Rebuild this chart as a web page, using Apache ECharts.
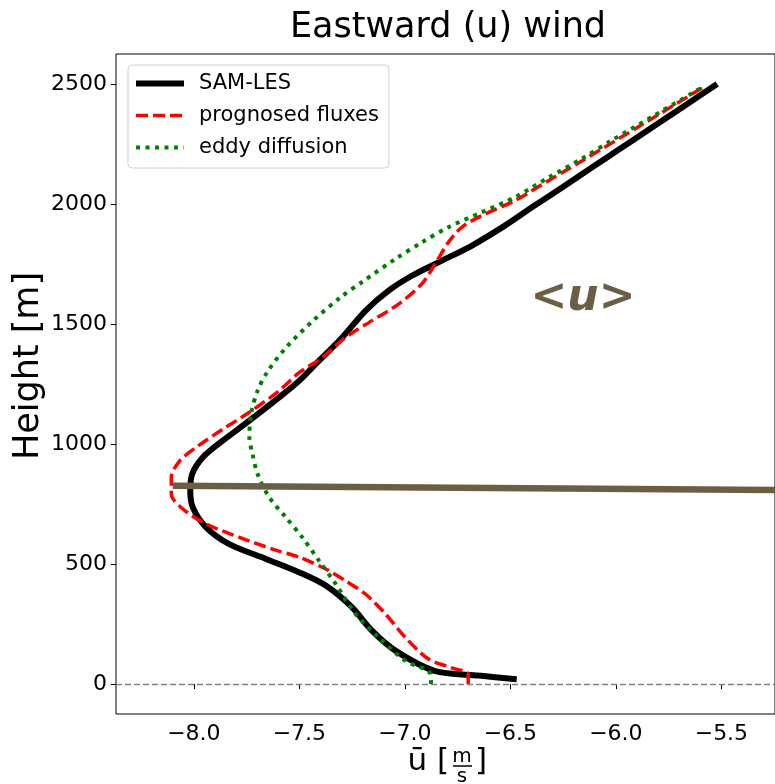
<!DOCTYPE html>
<html>
<head>
<meta charset="utf-8">
<script src="https://cdn.jsdelivr.net/npm/echarts@6/dist/echarts.min.js"></script>
<style>
    html, body { margin: 0; padding: 0; background: #fff; }
    #chart { width: 775px; height: 784px; }
</style>
</head>
<body>
<div id="chart"></div>
<script>
// 刻度
var xTicks = [-8.0, -7.5, -7.0, -6.5, -6.0, -5.5];
var yTicks = [0, 500, 1000, 1500, 2000, 2500];

// SAM-LES
var samZ = [20, 35, 55, 139, 222, 319, 410, 465, 521, 583, 653, 736, 805, 875, 944, 1014, 1097, 1194, 1264, 1347, 1444, 1555, 1639, 1701, 1757, 1826, 1910, 1986, 2069, 2160, 2222, 2312, 2400, 2500];
var samU = [-6.47, -6.65, -6.86, -7.045, -7.156, -7.25, -7.375, -7.50, -7.658, -7.832, -7.942, -8.005, -8.017, -8.008, -7.958, -7.863, -7.737, -7.596, -7.50, -7.407, -7.297, -7.187, -7.077, -6.967, -6.841, -6.684, -6.526, -6.398, -6.255, -6.10, -5.995, -5.84, -5.69, -5.52];

// prognosed fluxes
var progZ = [0, 42, 67, 104, 194, 292, 375, 430, 479, 528, 562, 611, 667, 729, 792, 861, 930, 986, 1062, 1132, 1222, 1298, 1361, 1444, 1514, 1583, 1667, 1750, 1840, 1903, 1951, 2014, 2097, 2180, 2333, 2490];
var progU = [-6.70, -6.70, -6.778, -6.888, -6.998, -7.092, -7.187, -7.281, -7.375, -7.50, -7.627, -7.784, -7.942, -8.052, -8.107, -8.107, -8.067, -7.989, -7.863, -7.737, -7.596, -7.50, -7.39, -7.281, -7.156, -7.03, -6.92, -6.857, -6.794, -6.731, -6.637, -6.479, -6.32, -6.16, -5.872, -5.58];

// eddy diffusion
var eddyZ = [0, 44, 97, 194, 292, 417, 514, 611, 694, 778, 875, 958, 1028, 1125, 1222, 1300, 1400, 1514, 1611, 1680, 1771, 1840, 1903, 1965, 2028, 2111, 2187, 2264, 2368, 2486];
var eddyU = [-6.876, -6.88, -6.998, -7.124, -7.234, -7.328, -7.407, -7.486, -7.564, -7.643, -7.698, -7.722, -7.737, -7.729, -7.698, -7.652, -7.565, -7.435, -7.305, -7.195, -7.045, -6.92, -6.794, -6.637, -6.479, -6.318, -6.165, -6.022, -5.82, -5.591];

// <u> 标注线
var annoU = [-8.10, -5.246];
var annoZ = [826, 808];

var FONT = "'DejaVu Sans', sans-serif";
var BROWN = "#6b5e46";

function pairs(u, z) {
    return u.map(function(v, i) { return [v, z[i]]; });
}

(function() {
    var myChart = echarts.init(document.getElementById("chart"));

    var option = {
        backgroundColor: "#fff",
        animation: false,
        grid: {
            left: 116,
            top: 54,
            right: -3,
            bottom: 70,
            show: true,
            borderColor: "#000",
            borderWidth: 1
        },
        legend: {
            data: [
                { name: "SAM-LES", lineStyle: { width: 6 } },
                { name: "prognosed fluxes", lineStyle: { width: 3.5, type: [12, 5] } },
                { name: "eddy diffusion", lineStyle: { width: 4, type: [4, 5.5] } }
            ],
            orient: "vertical",
            left: 128,
            top: 65,
            itemWidth: 48,
            itemHeight: 14,
            itemGap: 11,
            padding: [8, 10, 10, 5],
            borderColor: "#d0d0d0",
            borderWidth: 1,
            borderRadius: 4,
            backgroundColor: "rgba(255,255,255,0.8)",
            itemStyle: { opacity: 0 },
            textStyle: {
                fontFamily: FONT,
                fontSize: 21,
                color: "#000",
                lineHeight: 20,
                padding: [0, 0, 0, 10]
            }
        },
        xAxis: {
            type: "value",
            min: -8.369,
            max: -5.246,
            axisLine: { show: false },
            splitLine: { show: false },
            axisTick: {
                customValues: xTicks,
                length: 5,
                lineStyle: { color: "#000", width: 1 }
            },
            axisLabel: {
                customValues: xTicks,
                margin: 9,
                fontFamily: FONT,
                fontSize: 22,
                color: "#000",
                formatter: function(v) {
                    return (v < 0 ? "\u2212" : "") + Math.abs(v).toFixed(1);
                }
            }
        },
        yAxis: {
            type: "value",
            min: -125,
            max: 2625,
            axisLine: { show: false },
            splitLine: { show: false },
            axisTick: {
                customValues: yTicks,
                length: 5,
                lineStyle: { color: "#000", width: 1 }
            },
            axisLabel: {
                customValues: yTicks,
                margin: 9,
                fontFamily: FONT,
                fontSize: 22,
                color: "#000",
                formatter: function(v) { return String(v); }
            }
        },
        series: [{
            name: "SAM-LES",
            type: "line",
            data: pairs(samU, samZ),
            symbol: "none",
            smooth: 0.3,
            z: 2,
            lineStyle: { color: "#000", width: 6 },
            itemStyle: { color: "#000" },
            markLine: {
                silent: true,
                symbol: "none",
                label: { show: false },
                lineStyle: { color: "#808080", type: [6, 3], width: 1.3 },
                data: [{ yAxis: 0 }]
            }
        }, {
            name: "prognosed fluxes",
            type: "line",
            data: pairs(progU, progZ),
            symbol: "none",
            smooth: 0.3,
            z: 3,
            lineStyle: { color: "#ff0000", width: 3.5, type: [12, 5], cap: "butt" },
            itemStyle: { color: "#ff0000" }
        }, {
            name: "eddy diffusion",
            type: "line",
            data: pairs(eddyU, eddyZ),
            symbol: "none",
            smooth: 0.3,
            z: 4,
            lineStyle: { color: "#008000", width: 4, type: [4, 5.5], cap: "butt" },
            itemStyle: { color: "#008000" }
        }, {
            name: "anno",
            type: "line",
            data: pairs(annoU, annoZ),
            symbol: "none",
            z: 5,
            silent: true,
            lineStyle: { color: BROWN, width: 6.5, cap: "butt" }
        }],
        graphic: [{
            type: "text",
            x: 448,
            y: 28,
            style: { text: "Eastward (u) wind", font: "35px " + FONT, fill: "#000", align: "center", verticalAlign: "middle" }
        }, {
            type: "text",
            x: 29,
            y: 366,
            rotation: Math.PI / 2,
            style: { text: "Height [m]", font: "35px " + FONT, fill: "#000", align: "center", verticalAlign: "middle" }
        }, {
            type: "text",
            x: 449,
            y: 762,
            style: { text: "\u016b [", font: "31px " + FONT, fill: "#000", align: "right", verticalAlign: "middle" }
        }, {
            type: "text",
            x: 462,
            y: 757,
            style: { text: "m", font: "20px " + FONT, fill: "#000", align: "center", verticalAlign: "middle" }
        }, {
            type: "line",
            shape: { x1: 453, y1: 766, x2: 472, y2: 766 },
            style: { stroke: "#000", lineWidth: 1.5 }
        }, {
            type: "text",
            x: 462,
            y: 777,
            style: { text: "s", font: "20px " + FONT, fill: "#000", align: "center", verticalAlign: "middle" }
        }, {
            type: "text",
            x: 475,
            y: 762,
            style: { text: "]", font: "31px " + FONT, fill: "#000", align: "left", verticalAlign: "middle" }
        }, {
            type: "text",
            x: 583,
            y: 299,
            z: 100,
            style: { text: "<u>", font: "italic bold 44px " + FONT, fill: BROWN, align: "center", verticalAlign: "middle" }
        }]
    };

    myChart.setOption(option);
})();
</script>
</body>
</html>
